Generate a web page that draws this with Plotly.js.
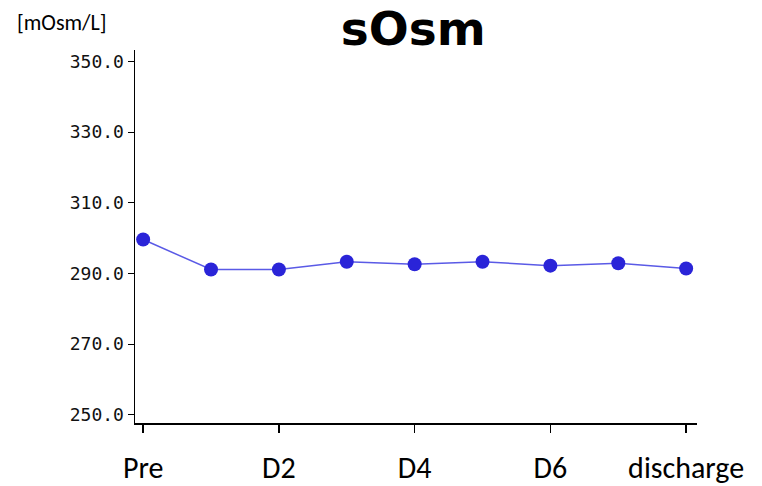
<!DOCTYPE html>
<html>
<head>
<meta charset="utf-8">
<script src="https://cdn.plot.ly/plotly-3.0.1.min.js"></script>
<style>
  html, body { margin: 0; padding: 0; background: #fff; }
  #chart { width: 762px; height: 486px; }
</style>
</head>
<body>
<div id="chart"></div>
<script>
// Serum osmolality across the hospital stay
const timepoints = [0, 1, 2, 3, 4, 5, 6, 7, 8];
const sOsm = [299.6, 291.1, 291.1, 293.3, 292.6, 293.3, 292.2, 292.9, 291.4];
const xTickVals = [0, 2, 4, 6, 8];
const xTickText = ["Pre", "D2", "D4", "D6", "discharge"];
const yTickVals = [250, 270, 290, 310, 330, 350];
const yTickText = ["250.0", "270.0", "290.0", "310.0", "330.0", "350.0"];

const trace = {
  x: timepoints,
  y: sOsm,
  type: "scatter",
  mode: "lines+markers",
  line: { color: "#5a5ae6", width: 1.5 },
  marker: { color: "#2a24d8", size: 14 },
  hoverinfo: "y"
};

const layout = {
  width: 762,
  height: 486,
  margin: { l: 135, r: 65, t: 50, b: 63 },
  paper_bgcolor: "#ffffff",
  plot_bgcolor: "#ffffff",
  showlegend: false,
  title: {
    text: "<b>sOsm</b>",
    font: { family: "DejaVu Sans, sans-serif", size: 47, color: "#000" },
    x: 0.495, xanchor: "center",
    xref: "paper",
    y: 0.941, yanchor: "middle"
  },
  xaxis: {
    range: [-0.12, 8.16],
    tickvals: xTickVals,
    ticktext: xTickText,
    ticks: "outside",
    ticklen: 8,
    tickwidth: 1.5,
    tickcolor: "#000",
    ticklabelstandoff: 9,
    tickfont: { family: "Carlito, Noto Sans, Liberation Sans, sans-serif", size: 30, color: "#000" },
    showline: true,
    linecolor: "#000",
    linewidth: 1.5,
    showgrid: false,
    zeroline: false,
    fixedrange: true
  },
  yaxis: {
    range: [247.7, 353.2],
    tickvals: yTickVals,
    ticktext: yTickText,
    ticks: "outside",
    ticklen: 6,
    tickwidth: 1,
    tickcolor: "#000",
    tickfont: { family: "DejaVu Sans Mono, monospace", size: 18, color: "#111" },
    showline: true,
    linecolor: "#000",
    linewidth: 1.5,
    showgrid: false,
    zeroline: false,
    fixedrange: true
  },
  annotations: [
    {
      text: "[mOsm/L]",
      xref: "paper", yref: "paper",
      x: -0.213, y: 1.075,
      xanchor: "left", yanchor: "middle",
      showarrow: false,
      font: { family: "Carlito, Noto Sans, Liberation Sans, sans-serif", size: 22, color: "#000" }
    }
  ]
};

Plotly.newPlot("chart", [trace], layout, { displayModeBar: false, staticPlot: true });
</script>
</body>
</html>
